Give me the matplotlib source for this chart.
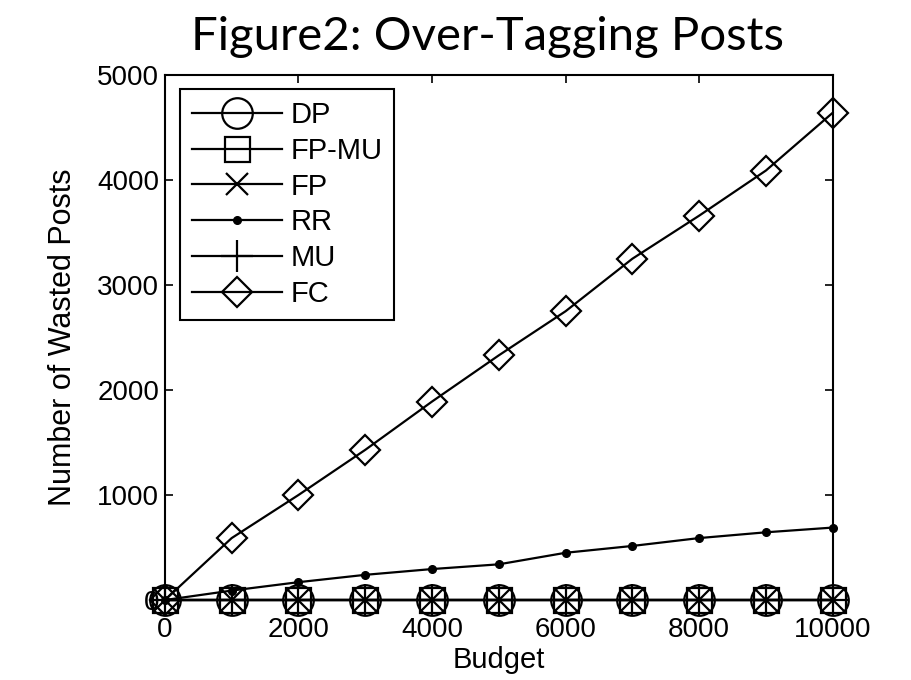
import matplotlib
matplotlib.use("Agg")
import matplotlib.pyplot as plt

budget = [0, 1000, 2000, 3000, 4000, 5000, 6000, 7000, 8000, 9000, 10000]
dp = [0, 0, 0, 0, 0, 0, 0, 0, 0, 0, 0]
fp_mu = [0, 0, 0, 0, 0, 0, 0, 0, 0, 0, 0]
fp = [0, 0, 0, 0, 0, 0, 0, 0, 0, 0, 0]
rr = [0, 90, 170, 240, 295, 340, 450, 515, 590, 645, 690]
mu = [0, 0, 0, 0, 0, 0, 0, 0, 0, 0, 0]
fc = [0, 590, 1000, 1430, 1890, 2330, 2750, 3250, 3660, 4090, 4640]

plt.rcParams['font.family'] = ['Liberation Sans', 'DejaVu Sans']

fig = plt.figure(figsize=(9.11, 6.8), dpi=100)
ax = fig.add_axes([0.181, 0.1176, 0.733, 0.7721])

lw = 1.6
ax.plot(budget, dp, color='k', lw=lw, marker='o', ms=22, mfc='none', mew=lw, label='DP', clip_on=False)
ax.plot(budget, fp_mu, color='k', lw=lw, marker='s', ms=18, mfc='none', mew=lw, label='FP-MU', clip_on=False)
ax.plot(budget, fp, color='k', lw=lw, marker='x', ms=16, mew=lw, label='FP', clip_on=False)
ax.plot(budget, rr, color='k', lw=lw, marker='.', ms=11, label='RR', clip_on=False)
ax.plot(budget, mu, color='k', lw=lw, marker='+', ms=23, mew=lw, label='MU', clip_on=False)
ax.plot(budget, fc, color='k', lw=lw, marker='D', ms=15, mfc='none', mew=lw, label='FC', clip_on=False)

ax.set_xlim(0, 10000)
ax.set_ylim(0, 5000)
ax.set_xticks([0, 2000, 4000, 6000, 8000, 10000])
ax.set_yticks([0, 1000, 2000, 3000, 4000, 5000])
ax.tick_params(direction='in', top=True, right=True, labelsize=20, length=6, width=1.2, pad=4)
ax.tick_params(axis='x', pad=12.5)
for s in ax.spines.values():
    s.set_linewidth(1.5)

ax.set_xlabel('Budget', fontsize=21, labelpad=2)
ax.set_ylabel('Number of Wasted Posts', fontsize=22, labelpad=14)

leg = ax.legend(loc='upper left', fontsize=21, numpoints=1, handlelength=3.1,
                labelspacing=0.27, handletextpad=0.3, borderpad=0.4, borderaxespad=0,
                fancybox=False, edgecolor='k', framealpha=1,
                bbox_to_anchor=(0.0225, 0.973))
leg.get_frame().set_linewidth(1.5)

fig.text(0.535, 0.945, 'Figure2: Over-Tagging Posts', family=['Lato', 'DejaVu Sans'],
         fontsize=34, ha='center', va='center')

fig.savefig('out.png', dpi=100)
